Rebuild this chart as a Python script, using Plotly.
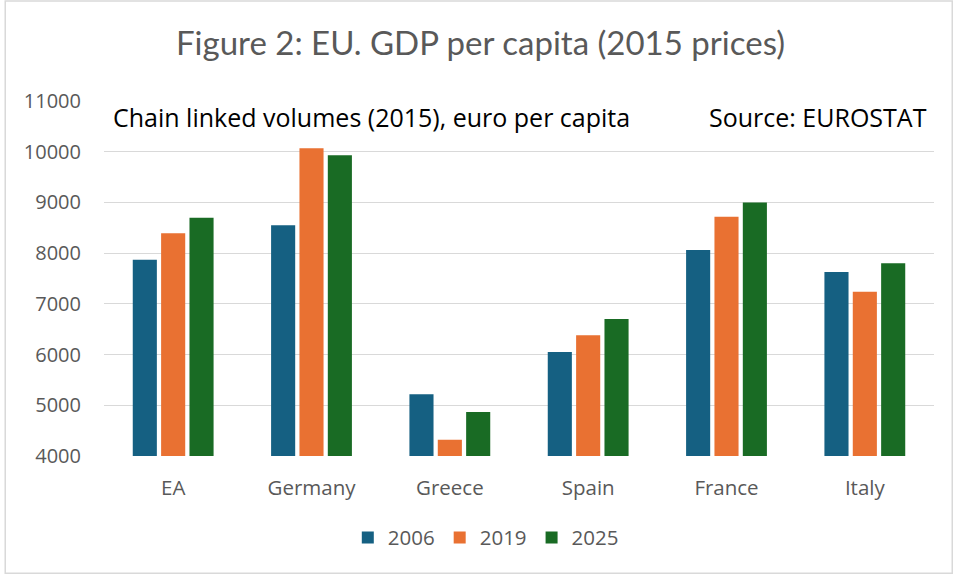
import plotly.graph_objects as go

# GDP per capita, chain linked volumes (2015), euro per capita
countries = ["EA", "Germany", "Greece", "Spain", "France", "Italy"]
years = ["2006", "2019", "2025"]
gdp_2006 = [7870, 8550, 5220, 6050, 8060, 7630]
gdp_2019 = [8390, 10070, 4320, 6380, 8720, 7240]
gdp_2025 = [8700, 9930, 4870, 6700, 9000, 7800]
series = [gdp_2006, gdp_2019, gdp_2025]
colors = ["#156082", "#E97132", "#196B24"]
y_ticks = [4000, 5000, 6000, 7000, 8000, 9000, 10000, 11000]
y_tick_text = [str(v) for v in y_ticks]

GREY = "#595959"
BODY_FONT = "'Open Sans', 'Liberation Sans', sans-serif"

fig = go.Figure()
for year, vals, col in zip(years, series, colors):
    fig.add_trace(go.Bar(name=year, x=countries, y=vals, marker_color=col,
                         marker_line_width=0))

fig.update_layout(
    width=961, height=577,
    paper_bgcolor="white", plot_bgcolor="white",
    margin=dict(l=104, r=27, t=101, b=121, autoexpand=False),
    barmode="group", bargap=0.385, bargroupgap=0.15,
    title=dict(text="Figure 2: EU. GDP per capita (2015 prices)",
               x=0.5, xanchor="center", y=0.925, yanchor="middle",
               font=dict(family="Lato, Roboto, sans-serif", size=33, color=GREY)),
    font=dict(family=BODY_FONT, color=GREY, size=20),
    legend=dict(orientation="h", x=0.46, xanchor="center",
                y=-0.23, yanchor="middle",
                font=dict(size=20.5, color=GREY), itemwidth=30,
                traceorder="normal"),
    showlegend=True,
)
fig.update_yaxes(range=[4000, 11000], tickvals=y_ticks, ticktext=y_tick_text,
                 showgrid=True, gridcolor="#D9D9D9", gridwidth=1.3,
                 zeroline=False, showline=False, ticks="",
                 ticklabelstandoff=22, tickfont=dict(size=20, color=GREY))
fig.update_xaxes(showgrid=False, showline=False, ticks="", tickangle=0,
                 ticklabelstandoff=17, tickfont=dict(size=20.5, color=GREY))

fig.add_annotation(text="Chain linked volumes (2015), euro per capita",
                   xref="paper", yref="paper", x=0.009, y=0.955,
                   xanchor="left", yanchor="middle", showarrow=False,
                   font=dict(family=BODY_FONT, size=25, color="#000000"))
fig.add_annotation(text="Source: EUROSTAT",
                   xref="paper", yref="paper", x=0.994, y=0.955,
                   xanchor="right", yanchor="middle", showarrow=False,
                   font=dict(family=BODY_FONT, size=25, color="#000000"))

# thin frame around the whole chart
fig.add_shape(type="rect", xref="paper", yref="paper",
              x0=-0.119, x1=1.022, y0=-0.33, y1=1.282,
              line=dict(color="#D9D9D9", width=1.5), fillcolor="rgba(0,0,0,0)")

fig.write_html("out.html")
